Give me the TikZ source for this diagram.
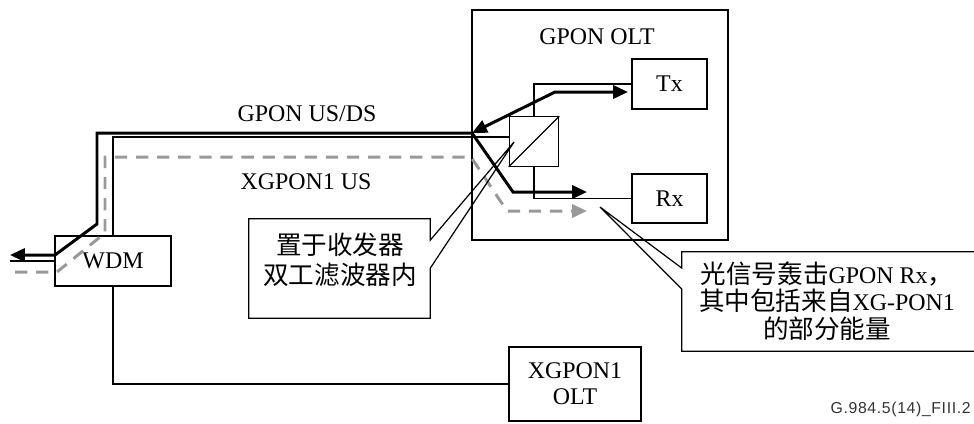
\documentclass[tikz,border=0pt]{standalone}
\usepackage{fontspec}
\setmainfont{Liberation Serif}
\newfontfamily\cjk[Scale=1.07]{Noto Sans CJK SC}
\newfontfamily\figfont[LetterSpace=4]{Liberation Sans}
\usetikzlibrary{arrows.meta}
\definecolor{fibregray}{gray}{0.6}

\begin{document}
\begin{tikzpicture}[x=0.2mm, y=-0.2mm, font=\fontsize{13.6}{16}\selectfont,
		>={Triangle[length=8.5pt,width=7.5pt]},
		blk/.style={draw, line width=0.7pt, inner sep=0pt},
		fibre/.style={line width=0.7pt},
		gpon/.style={line width=1.7pt, ->},
		xgpon/.style={line width=1.7pt, fibregray, dash pattern=on 7pt off 5pt, ->}]
		\useasboundingbox (0,0) rectangle (974,423);
		
		\node[blk, minimum width=5.12cm, minimum height=4.6cm] (olt) at (600,125) {};
		\node (olttitle) at (597,37) {GPON OLT};
		\node[blk, minimum width=1.5cm, minimum height=1cm] (tx) at (669.5,84) {Tx};
		\node[blk, minimum width=1.5cm, minimum height=0.98cm] (rx) at (669.5,198.5) {Rx};
		\node[blk, minimum size=0.99cm] (split) at (534,141.5) {};
		\node[blk, minimum width=2.32cm, minimum height=1cm] (wdm) at (113,261) {WDM};
		\node[blk, minimum width=2.64cm, minimum height=1.48cm, align=center, font=\fontsize{13.6}{14.7}\selectfont] (xolt) at (575,384) {XGPON1\\OLT};
		
		\node (usds) at (307,114) {GPON US/DS};
		\node (xus) at (306,182) {XGPON1 US};
		
		\coordinate (jn) at (472,133);
		\coordinate (ltip) at (10,255);
		\coordinate (fend) at (10,261);
		\coordinate (txtip) at (628,92);
		\coordinate (rxtip) at (587,192);
		\coordinate (xtip) at (587,211);
		\coordinate (xend) at (15,272);
		\coordinate (n1tip) at (514,142);
		\coordinate (n2tip) at (600,207);
		
		\draw[fibre] (split.west |- 0,137) -- (wdm.north |- 0,137) -- (wdm.north);
		\draw[fibre] (split.north) |- (tx.west);
		\draw[fibre] (split.south) |- (rx.west);
		\draw[fibre] (split.south west) -- (split.north east);
		\draw[fibre] (wdm.south) |- (xolt.west);
		\draw[fibre] (wdm.west) -- (fend);
		
		\draw[xgpon] (xend) -- (57,272) -- (105,233) -- (105,157) -- (471,157) -- (507,211) -- (xtip);
		
		\draw[gpon] (jn) -- (97,133) -- (97,224) -- (55,255) -- (ltip);
		\draw[gpon, <->] (jn) -- (555,92) -- (txtip);
		\draw[gpon] (jn) -- (513,192) -- (rxtip);
		
		\node[minimum width=3.62cm, minimum height=1.98cm, inner sep=0pt] (note1) at (339.5,268.5) {};
		\draw[fibre] (note1.east |- 0,240) -- (n1tip) -- (note1.east |- 0,268) -- (note1.south east) -- (note1.south west) -- (note1.north west) -- (note1.north east) -- cycle;
		\node[align=center, font=\cjk\fontsize{13.6}{17}\selectfont] (note1txt) at (340,260) {置于收发器\\双工滤波器内};
		
		\node[minimum width=5.96cm, minimum height=1.98cm, inner sep=0pt] (note2) at (831,301.5) {};
		\draw[fibre] (note2.west |- 0,268) -- (n2tip) -- (note2.west |- 0,289) -- (note2.south west) -- (note2.south east) -- (note2.north east) -- (note2.north west) -- cycle;
		\node[align=center, font=\fontsize{13.6}{15.6}\selectfont] (note2txt) at (827,301) {{\cjk 光信号轰击}GPON Rx{\cjk ，}\\{\cjk 其中包括来自}XG-PON1\\{\cjk 的部分能量}};
		
		\node[anchor=east, inner sep=0pt, text=black!80, font=\figfont\fontsize{9}{10}\selectfont] (figid) at (971,409) {G.984.5(14)\_FIII.2};
	\end{tikzpicture}
\end{document}
